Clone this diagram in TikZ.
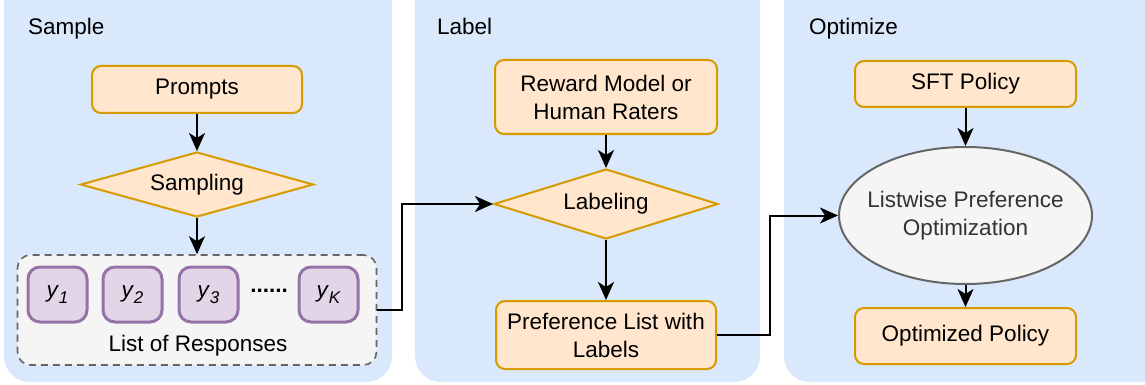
\documentclass[tikz,border=0pt]{standalone}
\usepackage{fontspec}
\setmainfont{Liberation Sans}
\usetikzlibrary{shapes.geometric,arrows.meta}
\definecolor{panelblue}{HTML}{DAE8FC}
\definecolor{orfill}{HTML}{FFE6CC}
\definecolor{ordraw}{HTML}{D79B00}
\definecolor{pufill}{HTML}{E1D5E7}
\definecolor{pudraw}{HTML}{9673A6}
\definecolor{grfill}{HTML}{F5F5F5}
\definecolor{grdraw}{HTML}{666666}
\definecolor{grtext}{HTML}{333333}
\newcommand{\ysub}[1]{{\itshape y\kern1pt\raisebox{-6pt}{\fontsize{17}{17}\selectfont #1}}}
\tikzset{
  x=1pt,y=-1pt,
  every node/.style={font=\fontsize{22.5}{28}\selectfont},
  panel/.style={fill=panelblue,draw=none,rounded corners=26pt},
  title/.style={anchor=base west,inner sep=0pt},
  obox/.style={draw=ordraw,fill=orfill,line width=2pt,rounded corners=9pt,align=center,inner sep=0pt},
  odiam/.style={diamond,draw=ordraw,fill=orfill,line width=2pt,inner sep=0pt,minimum width=233pt,minimum height=65pt},
  ctext/.style={inner sep=0pt,align=center},
  ybox/.style={draw=pudraw,fill=pufill,line width=3pt,rounded corners=12pt,minimum width=59pt,minimum height=55pt,inner sep=0pt},
  listbox/.style={draw=grdraw,fill=grfill,line width=1.6pt,dash pattern=on 7pt off 5pt,rounded corners=13pt,minimum width=359pt,minimum height=110pt,inner sep=0pt},
  lpo/.style={ellipse,draw=grdraw,fill=grfill,line width=2pt,minimum width=253pt,minimum height=137pt,inner sep=0pt},
  arr/.style={line width=2pt,-{Stealth[length=18pt,width=16pt,inset=5pt]}},
}
\begin{document}
\begin{tikzpicture}
\useasboundingbox (0,0) rectangle (1145,385);
% panels
\fill[panel] (4,-30) rectangle (392,382);
\fill[panel] (415,-30) rectangle (760,382);
\fill[panel] (784,-30) rectangle (1175,382);
\node[title] (t1) at (28,34.5) {Sample};
\node[title] (t2) at (437,34.5) {Label};
\node[title] (t3) at (809,34.5) {Optimize};
% Sample
\node[obox,minimum width=210pt,minimum height=47pt] (prompts) at (197,89.5) {Prompts};
\node[odiam] (sampling) at (197,184.5) {};
\node[ctext] (samplingT) at (sampling.center) {Sampling};
\node[listbox] (list) at (197,310) {};
\node[ybox] (y1) at (57.5,294.5) {\ysub{1}};
\node[ybox] (y2) at (132.5,294.5) {\ysub{2}};
\node[ybox] (y3) at (208.5,294.5) {\ysub{3}};
\node[ybox] (yk) at (328.5,294.5) {\ysub{K}};
\node[inner sep=0pt] (dots) at (269,291) {\textbf{......}};
\node[inner sep=0pt] (lor) at (198,346) {List of Responses};
\draw[arr] (prompts) -- (sampling);
\draw[arr] (sampling) -- (list);
% Label
\node[obox,minimum width=222pt,minimum height=74pt] (reward) at (606,97) {Reward Model or\\Human Raters};
\node[odiam,minimum width=224pt,minimum height=70pt] (labeling) at (606,204) {};
\node[ctext] (labelingT) at (labeling.center) {Labeling};
\node[obox,minimum width=220pt,minimum height=68pt] (pref) at (606,335) {Preference List with\\Labels};
\draw[arr] (reward) -- (labeling);
\draw[arr] (labeling) -- (pref);
\draw[arr] (list.east) -- ++(25,0) |- (labeling.west);
% Optimize
\node[obox,minimum width=221pt,minimum height=46pt] (sft) at (965.5,84) {SFT Policy};
\node[lpo] (lpoN) at (965.5,215.5) {};
\node[ctext,text=grtext] (lpoT) at (lpoN.center) {Listwise Preference\\Optimization};
\node[obox,minimum width=221pt,minimum height=56pt] (opt) at (965.5,336) {Optimized Policy};
\draw[arr] (sft) -- (lpoN);
\draw[arr] (lpoN) -- (opt);
\draw[arr] (pref.east) -- (770,335) |- (lpoN.west);
\end{tikzpicture}
\end{document}
